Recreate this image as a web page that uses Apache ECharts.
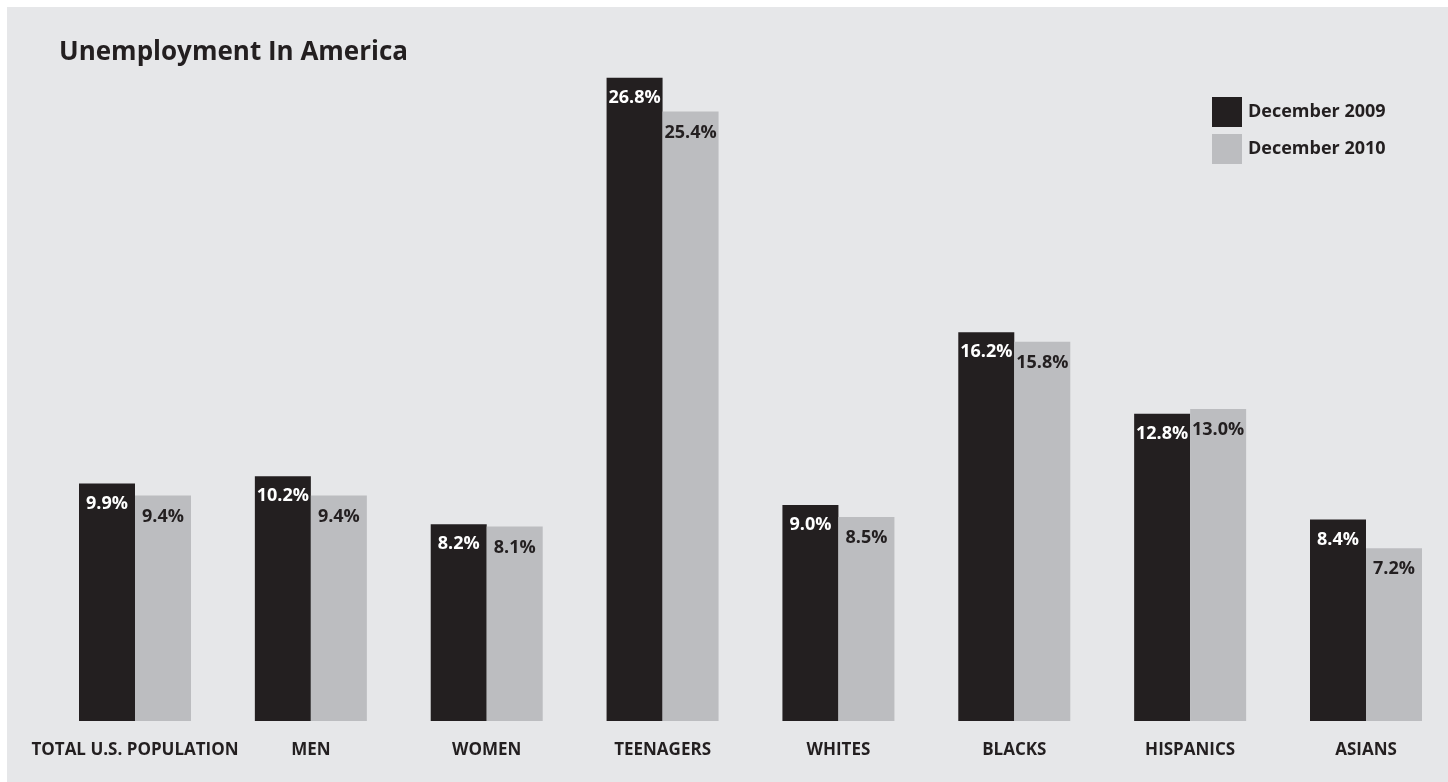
<!DOCTYPE html>
<html>
<head>
<meta charset="utf-8">
<script src="https://cdn.jsdelivr.net/npm/echarts@6/dist/echarts.min.js"></script>
<style>
  html, body { margin: 0; padding: 0; background: #ffffff; }
  #chart { width: 1448px; height: 782px; }
</style>
</head>
<body>
<div id="chart"></div>
<script>
var categories = ['TOTAL U.S. POPULATION', 'MEN', 'WOMEN', 'TEENAGERS', 'WHITES', 'BLACKS', 'HISPANICS', 'ASIANS'];
var dec2009 = [9.9, 10.2, 8.2, 26.8, 9.0, 16.2, 12.8, 8.4];
var dec2010 = [9.4, 9.4, 8.1, 25.4, 8.5, 15.8, 13.0, 7.2];

var font = '"Open Sans", "Noto Sans", sans-serif';

var chart = echarts.init(document.getElementById('chart'));

function pct(p) {
    return p.value.toFixed(1) + '%';
}

var option = {
    backgroundColor: '#ffffff',
    animation: false,
    graphic: [{
        type: 'rect',
        left: 7, top: 7,
        shape: { width: 1441, height: 775 },
        style: { fill: '#e6e7e9' },
        z: -10
    }],
    title: {
        text: 'Unemployment In America',
        left: 54, top: 35,
        textStyle: { fontFamily: font, fontSize: 26, fontWeight: 'bold', color: '#231f20' }
    },
    legend: {
        orient: 'vertical',
        left: 1212, top: 97,
        padding: 0,
        itemWidth: 30, itemHeight: 30, itemGap: 7,
        icon: 'rect',
        textStyle: { fontFamily: font, fontSize: 18, fontWeight: 'bold', color: '#231f20', padding: [0, 0, 0, 1] },
        data: ['December 2009', 'December 2010']
    },
    // categories sit on the ticks so the first/last groups land where the original has them
    grid: { left: 135, right: 82, top: 1, bottom: 61, containLabel: false },
    xAxis: {
        type: 'category',
        data: categories,
        boundaryGap: false,
        axisLine: { show: false },
        axisTick: { show: false },
        axisLabel: {
            margin: 21, interval: 0,
            fontFamily: font, fontSize: 17, fontWeight: 'bold', color: '#231f20'
        }
    },
    yAxis: {
        type: 'value', min: 0, max: 30,
        show: false,
        splitLine: { show: false }
    },
    series: [{
        name: 'December 2009',
        type: 'bar',
        data: dec2009,
        barWidth: 56,
        barGap: '0%',
        itemStyle: { color: '#231f20' },
        label: {
            show: true, position: 'insideTop', distance: 11,
            formatter: pct,
            fontFamily: font, fontSize: 18, fontWeight: 'bold', color: '#ffffff'
        }
    }, {
        name: 'December 2010',
        type: 'bar',
        data: dec2010,
        barWidth: 56,
        itemStyle: { color: '#bcbdc0' },
        label: {
            show: true, position: 'insideTop', distance: 12,
            formatter: pct,
            fontFamily: font, fontSize: 18, fontWeight: 'bold', color: '#231f20'
        }
    }]
};

chart.setOption(option);
</script>
</body>
</html>
